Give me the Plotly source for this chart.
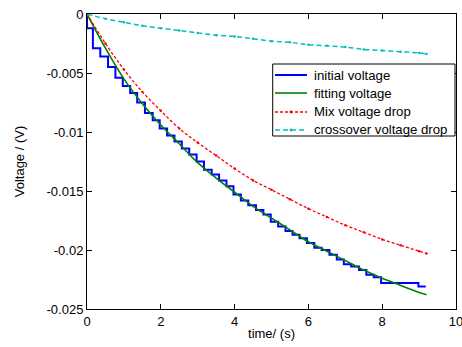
import plotly.graph_objects as go

# ---- data ----
step_t = [0, 0, 0.16, 0.36, 0.57, 0.77, 0.97, 1.17, 1.36, 1.57, 1.78, 1.97, 2.17, 2.37, 2.57,
          2.77, 2.97, 3.17, 3.38, 3.58, 3.78, 3.97, 4.17, 4.37, 4.58, 4.78, 4.98, 5.18,
          5.38, 5.57, 5.76, 5.96, 6.16, 6.36, 6.57, 6.77, 6.96, 7.16, 7.37, 7.57, 7.77,
          7.97, 8.98, 9.18]
step_v = [0, -0.0012, -0.0029, -0.0036, -0.0045, -0.0054, -0.0061, -0.0067, -0.0075, -0.0084,
          -0.0090, -0.0097, -0.0103, -0.0108, -0.0114, -0.0119, -0.0125, -0.0132, -0.0136,
          -0.0141, -0.0146, -0.0153, -0.0158, -0.0162, -0.0166, -0.0170, -0.0176, -0.0180,
          -0.0184, -0.0187, -0.0190, -0.0194, -0.0198, -0.0200, -0.0204, -0.0208, -0.0212,
          -0.0214, -0.0217, -0.0221, -0.0223, -0.0228, -0.0231, -0.0231]

t = [0, 0.5, 1.0, 1.5, 2.0, 2.5, 3.0, 3.5, 4.0, 4.5, 5.0, 5.5, 6.0, 6.5, 7.0, 7.5,
     8.0, 8.5, 9.0, 9.2]
fit_v = [0, -0.0029, -0.0055, -0.0076, -0.0094, -0.0110, -0.0126, -0.0139, -0.0151,
         -0.0163, -0.0173, -0.0183, -0.0193, -0.0201, -0.0209, -0.0217, -0.0224,
         -0.0230, -0.0236, -0.0238]
mix_v = [0, -0.0025, -0.0047, -0.0066, -0.0082, -0.0097, -0.0109, -0.0120, -0.0131,
         -0.0141, -0.0149, -0.0157, -0.0165, -0.0172, -0.0179, -0.0185, -0.0191,
         -0.0196, -0.0201, -0.0203]
cross_v = [0, -0.0004, -0.0007, -0.0010, -0.0012, -0.0014, -0.0016, -0.0018, -0.0019,
           -0.0021, -0.0023, -0.0024, -0.0026, -0.0027, -0.0028, -0.0030, -0.0031,
           -0.0032, -0.0033, -0.0034]

series_names = ["initial voltage", "fitting voltage", "Mix voltage drop", "crossover voltage drop"]

x_ticks = [0, 2, 4, 6, 8, 10]
y_ticks = [0, -0.005, -0.01, -0.015, -0.02, -0.025]
y_ticktext = ["0", "-0.005", "-0.01", "-0.015", "-0.02", "-0.025"]

FONT = "Liberation Sans, Arial, Helvetica, sans-serif"

styles = [
    dict(color="#0000ff", width=2, dash="solid", dot=False),
    dict(color="#008000", width=1.6, dash="solid", dot=False),
    dict(color="#ff0000", width=1.3, dash="3px,2px", dot=True),
    dict(color="#00bfbf", width=1.5, dash="5px,3px", dot=True),
]

fig = go.Figure()
fig.add_trace(go.Scatter(x=step_t, y=step_v, mode="lines", name=series_names[0],
                         line=dict(color=styles[0]["color"], width=styles[0]["width"], shape="hv")))
fig.add_trace(go.Scatter(x=t, y=fit_v, mode="lines", name=series_names[1],
                         line=dict(color=styles[1]["color"], width=styles[1]["width"], shape="spline")))
fig.add_trace(go.Scatter(x=t, y=mix_v, mode="lines+markers", name=series_names[2],
                         line=dict(color=styles[2]["color"], width=styles[2]["width"],
                                   dash=styles[2]["dash"], shape="spline"),
                         marker=dict(size=2.5, color=styles[2]["color"])))
fig.add_trace(go.Scatter(x=t, y=cross_v, mode="lines+markers", name=series_names[3],
                         line=dict(color=styles[3]["color"], width=styles[3]["width"],
                                   dash=styles[3]["dash"], shape="spline"),
                         marker=dict(size=2.5, color=styles[3]["color"])))

# ---- legend drawn in paper coordinates (MATLAB-like box) ----
lx0, lx1, ly0, ly1 = 0.5033, 0.9973, 0.5864, 0.8305
line_x0, line_x1, text_x = 0.5095, 0.5962, 0.6098
row_y = [0.7932, 0.7322, 0.6678, 0.6068]

shapes = [dict(type="rect", xref="paper", yref="paper", x0=lx0, x1=lx1, y0=ly0, y1=ly1,
               line=dict(color="black", width=1), fillcolor="white", layer="above")]
annotations = []
for name, st, yy in zip(series_names, styles, row_y):
    shapes.append(dict(type="line", xref="paper", yref="paper", x0=line_x0, x1=line_x1,
                       y0=yy, y1=yy, layer="above",
                       line=dict(color=st["color"], width=st["width"], dash=st["dash"])))
    if st["dot"]:
        xc = (line_x0 + line_x1) / 2
        shapes.append(dict(type="circle", xref="paper", yref="paper",
                           x0=xc - 0.004, x1=xc + 0.004, y0=yy - 0.005, y1=yy + 0.005,
                           layer="above", fillcolor=st["color"], line=dict(width=0)))
    annotations.append(dict(xref="paper", yref="paper", x=text_x, y=yy, text=name,
                            showarrow=False, xanchor="left", yanchor="middle",
                            font=dict(family=FONT, size=13.2, color="black")))

axis_common = dict(showline=True, linecolor="black", linewidth=1, mirror="ticks",
                   ticks="inside", ticklen=5, tickcolor="black", showgrid=False,
                   zeroline=False, ticklabeloverflow="allow", automargin=False,
                   tickfont=dict(family=FONT, size=13, color="black"))

fig.update_layout(
    width=462, height=347,
    margin=dict(l=87, r=6, t=14, b=38),
    paper_bgcolor="white", plot_bgcolor="white",
    font=dict(family=FONT, size=13, color="black"),
    xaxis=dict(range=[0, 10], tickvals=x_ticks,
               title=dict(text="time/ (s)", font=dict(family=FONT, size=13), standoff=1),
               **axis_common),
    yaxis=dict(range=[-0.025, 0], tickvals=y_ticks, ticktext=y_ticktext,
               title=dict(text="Voltage / (V)", font=dict(family=FONT, size=13), standoff=18),
               **axis_common),
    shapes=shapes,
    annotations=annotations,
    showlegend=False,
)

fig.write_html("out.html")
